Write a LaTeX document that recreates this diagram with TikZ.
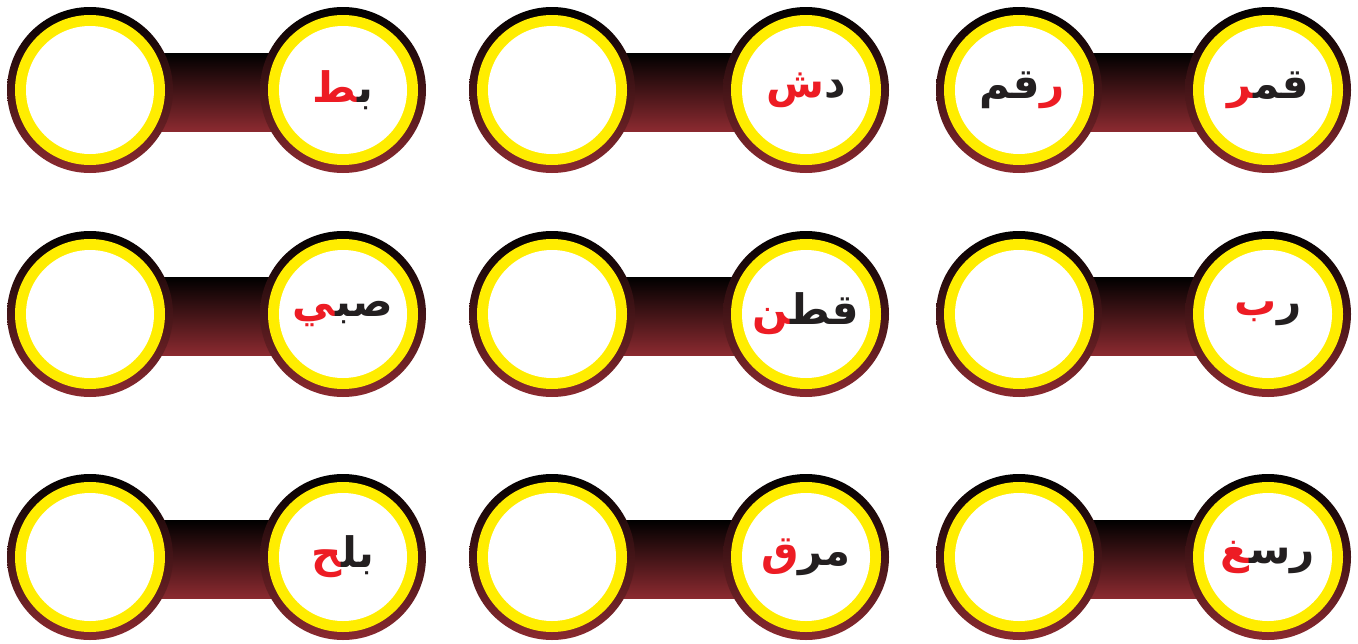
\documentclass[tikz,border=0pt]{standalone}
\usepackage{fontspec}
\newfontfamily\arabicfont[Script=Arabic]{DejaVu Sans}
\definecolor{ringred}{HTML}{8B2A30}
\definecolor{ringyellow}{HTML}{FFED00}
\definecolor{wordred}{HTML}{ED1C24}
\definecolor{wordblack}{HTML}{231F20}
\newcommand{\zj}{^^^^200d}
% pieces are written from left to right as they are seen
\newcommand{\arword}[1]{\arabicfont\bfseries #1}
\newcommand{\rd}[1]{\textcolor{wordred}{#1}}

\begin{document}
\begin{tikzpicture}[x = 1pt, y = -1pt,
    ring/.style = {top color = black, bottom color = ringred},
    word/.style = {text = wordblack, inner sep = 0pt, font = \fontsize{42}{50}\selectfont}]
    \useasboundingbox (0,0) rectangle (1358,643);
    \foreach \lx/\rx in {90/343, 552/806, 1019/1268}
    \foreach \cy in {90, 314, 557} {
        \shade[ring] (\lx,\cy-37) rectangle (\rx,\cy+41);
        \shade[ring] (\lx,\cy) circle (83);
        \shade[ring] (\rx,\cy) circle (83);
        \fill[ringyellow] (\lx,\cy) circle (75);
        \fill[ringyellow] (\rx,\cy) circle (75);
        \fill[white] (\lx,\cy) circle (64);
        \fill[white] (\rx,\cy) circle (64);
    }
    % first row
    \node[word] (batt) at (343,90) {\arword{\rd{\zj ط}ب\zj}};
    \node[word] (dash) at (806,90) {\arword{\rd{ش}د}};
    \node[word] (qamar) at (1268,90) {\arword{\rd{\zj ر}قم\zj}};
    \node[word] (raqm) at (1022,90) {\arword{قم\rd{ر}}};
    % second row
    \node[word] (sabi) at (343,314) {\arword{\rd{\zj ي}صب\zj}};
    \node[word] (qutn) at (806,314) {\arword{\rd{\zj ن}قط\zj}};
    \node[word] (rabb) at (1268,314) {\arword{\rd{ب}ر}};
    % third row
    \node[word] (balah) at (343,557) {\arword{\rd{\zj ح}بل\zj}};
    \node[word] (maraq) at (806,557) {\arword{\rd{ق}مر}};
    \node[word] (rusgh) at (1268,557) {\arword{\rd{\zj غ}رس\zj}};
\end{tikzpicture}
\end{document}
